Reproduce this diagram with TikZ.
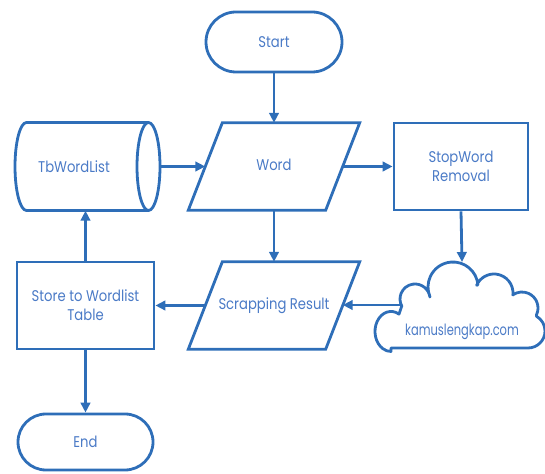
\documentclass[tikz,border=0pt]{standalone}
\usepackage{fontspec}
\setmainfont{Poppins}[FakeStretch=0.85]
\usetikzlibrary{shapes.geometric,arrows.meta}
\definecolor{lineblue}{RGB}{46,110,184}
\definecolor{textblue}{RGB}{74,122,198}
\begin{document}
\begin{tikzpicture}[x=1pt,y=1pt,
  every node/.style={font=\fontsize{15.5}{19}\selectfont, text=textblue, align=center},
  outline/.style={draw=lineblue, line width=2.8pt},
  terminal/.style={outline, rectangle, inner sep=0pt},
  procbox/.style={outline, rectangle, inner sep=0pt},
  iobody/.style={rectangle, inner sep=0pt, minimum width=137pt, minimum height=87pt},
  flow/.style={draw=lineblue, line width=2.8pt, -{Triangle[length=10pt,width=9.5pt]}}]
\useasboundingbox (0,0) rectangle (545,473);

% terminals and process boxes
\node[terminal, minimum width=136pt, minimum height=60pt, rounded corners=30pt] (start) at (274,431) {Start};
\node[procbox, minimum width=134pt, minimum height=87pt] (stop) at (461,306.5) {StopWord\\Removal};
\node[procbox, minimum width=137pt, minimum height=87pt] (store) at (85.5,167.5) {Store to Wordlist\\Table};
\node[terminal, minimum width=135pt, minimum height=56pt, rounded corners=28pt] (end) at (85.5,31) {End};

% input/output parallelograms
\node[iobody] (word) at (274,306.5) {\raisebox{4pt}{Word}};
\draw[outline, line join=miter] ([xshift=17pt]word.north west) -- ([xshift=17pt]word.north east)
  -- ([xshift=-17pt]word.south east) -- ([xshift=-17pt]word.south west) -- cycle;
\node[iobody] (scrap) at (274,167.5) {Scrapping Result};
\draw[outline, line join=miter] ([xshift=17pt]scrap.north west) -- ([xshift=17pt]scrap.north east)
  -- ([xshift=-17pt]scrap.south east) -- ([xshift=-17pt]scrap.south west) -- cycle;

% cylinder TbWordList
\node[minimum width=145pt, minimum height=88pt, inner sep=0pt] (tb) at (87.5,306.5) {};
\draw[outline] (148.5,350.5) -- (26.5,350.5)
  arc[start angle=90, end angle=270, x radius=11.5, y radius=44]
  -- (148.5,262.5)
  arc[start angle=-90, end angle=90, x radius=11.5, y radius=44];
\draw[outline] (148.5,350.5) arc[start angle=90, end angle=270, x radius=11.5, y radius=44];
\node (tbtext) at (74,306.5) {TbWordList};

% cloud
\draw[outline, line join=round] (391,125) -- (528,125)
  arc[start angle=-90, end angle=60, radius=17]
  -- ([shift={(-25:16)}]522,165) arc[start angle=-25, end angle=125, radius=16]
  -- ([shift={(-6:19)}]494,180) arc[start angle=-6, end angle=156, radius=19]
  -- ([shift={(5:25)}]453,186) arc[start angle=5, end angle=203, radius=25]
  -- ([shift={(8:15)}]415,174) arc[start angle=8, end angle=208, radius=15]
  -- ([shift={(60:16)}]391,145) arc[start angle=60, end angle=270, x radius=16, y radius=20]
  -- cycle;
\coordinate (cloudtop) at (462,211);
\coordinate (cloudleft) at (400,168);
\node (cloud) at (462,141) {\scalebox{0.87}[1]{kamuslengkap.com}};

% connectors
\draw[flow] (start) -- (word);
\draw[flow] (tb.east) -- (word);
\draw[flow] (word) -- (stop);
\draw[flow] (stop.south) -- (cloudtop);
\draw[flow] (cloudleft) -- (scrap.east |- cloudleft);
\draw[flow] (word) -- (scrap);
\draw[flow] (scrap) -- (store);
\draw[flow] (store.north) -- (store.north |- tb.south);
\draw[flow] (store) -- (end);
\end{tikzpicture}
\end{document}
